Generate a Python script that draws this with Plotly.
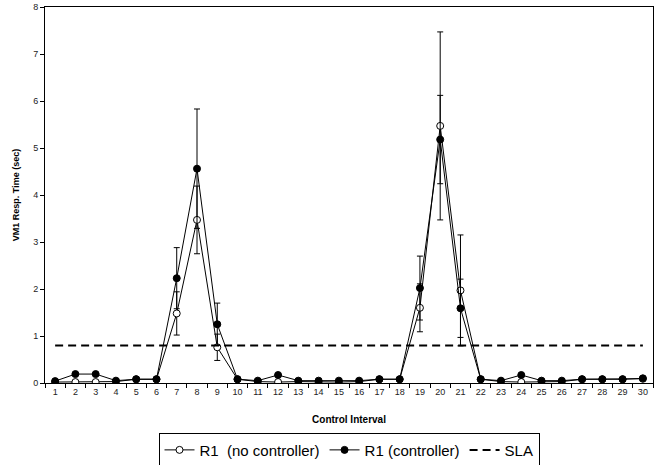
import plotly.graph_objects as go

# Control intervals 1..30
intervals = [str(i) for i in range(1, 31)]

# Mean VM1 response time (sec) without controller
no_ctrl = [0.02, 0.02, 0.02, 0.03, 0.08, 0.08, 1.48, 3.47, 0.76, 0.08,
           0.03, 0.02, 0.03, 0.02, 0.02, 0.03, 0.08, 0.08, 1.60, 5.47,
           1.97, 0.08, 0.03, 0.02, 0.03, 0.03, 0.08, 0.08, 0.08, 0.09]
no_ctrl_err = [0, 0, 0, 0, 0, 0, 0.46, 0.72, 0.28, 0,
               0, 0, 0, 0, 0, 0, 0, 0, 0.51, 2.00,
               1.18, 0, 0, 0, 0, 0, 0, 0, 0, 0]

# Mean VM1 response time (sec) with controller
ctrl = [0.04, 0.19, 0.19, 0.05, 0.08, 0.08, 2.23, 4.56, 1.25, 0.08,
        0.05, 0.17, 0.05, 0.05, 0.05, 0.05, 0.08, 0.08, 2.02, 5.18,
        1.59, 0.08, 0.05, 0.17, 0.05, 0.05, 0.08, 0.08, 0.08, 0.10]
ctrl_err = [0, 0, 0, 0, 0, 0, 0.65, 1.27, 0.45, 0,
            0, 0, 0, 0, 0, 0, 0, 0, 0.68, 0.94,
            0.62, 0, 0, 0, 0, 0, 0, 0, 0, 0]

# Service level agreement threshold
sla_value = 0.8
sla = [sla_value] * len(intervals)

y_ticks = list(range(0, 9))

fig = go.Figure()

fig.add_trace(go.Scatter(
    x=intervals, y=no_ctrl, name="R1\u00a0 (no controller)",
    mode="lines+markers",
    line=dict(color="black", width=1),
    marker=dict(symbol="circle", size=7, color="white",
                line=dict(color="black", width=1)),
    error_y=dict(type="data", array=no_ctrl_err, symmetric=True,
                 color="black", thickness=1, width=3, visible=True),
))

fig.add_trace(go.Scatter(
    x=intervals, y=ctrl, name="R1 (controller)",
    mode="lines+markers",
    line=dict(color="black", width=1),
    marker=dict(symbol="circle", size=7, color="black",
                line=dict(color="black", width=1)),
    error_y=dict(type="data", array=ctrl_err, symmetric=True,
                 color="black", thickness=1, width=3, visible=True),
))

fig.add_trace(go.Scatter(
    x=intervals, y=sla, name="SLA",
    mode="lines",
    line=dict(color="black", width=2, dash="8px,5px"),
))

fig.update_layout(
    width=658, height=465,
    margin=dict(l=45, r=5, t=7, b=82, autoexpand=False),
    paper_bgcolor="white", plot_bgcolor="white",
    font=dict(family="Liberation Sans, Arial, sans-serif", color="#222"),
    showlegend=True,
    legend=dict(
        orientation="h", x=0.5, xanchor="center", y=-0.132, yanchor="top",
        bordercolor="black", borderwidth=1,
        font=dict(size=15, color="black"),
        itemwidth=30,
    ),
)

fig.update_xaxes(
    type="category",
    range=[-0.5, len(intervals) - 0.5],
    tickson="boundaries",
    tickangle=0,
    automargin=False,
    ticks="outside", ticklen=4, tickcolor="black",
    showline=True, linecolor="black", linewidth=1, mirror=True,
    showgrid=False, zeroline=False,
    tickfont=dict(size=9),
    title=dict(text="<b>Control Interval</b>", font=dict(size=10, color="black"),
               standoff=20),
)

fig.update_yaxes(
    range=[0, 8], tickvals=y_ticks,
    automargin=False,
    ticks="outside", ticklen=4, tickcolor="black",
    showline=True, linecolor="black", linewidth=1, mirror=True,
    showgrid=False, zeroline=False,
    tickfont=dict(size=9),
    title=dict(text="<b>VM1 Resp. Time (sec)</b>", font=dict(size=9, color="black"),
               standoff=12),
)

fig.write_html("out.html")
